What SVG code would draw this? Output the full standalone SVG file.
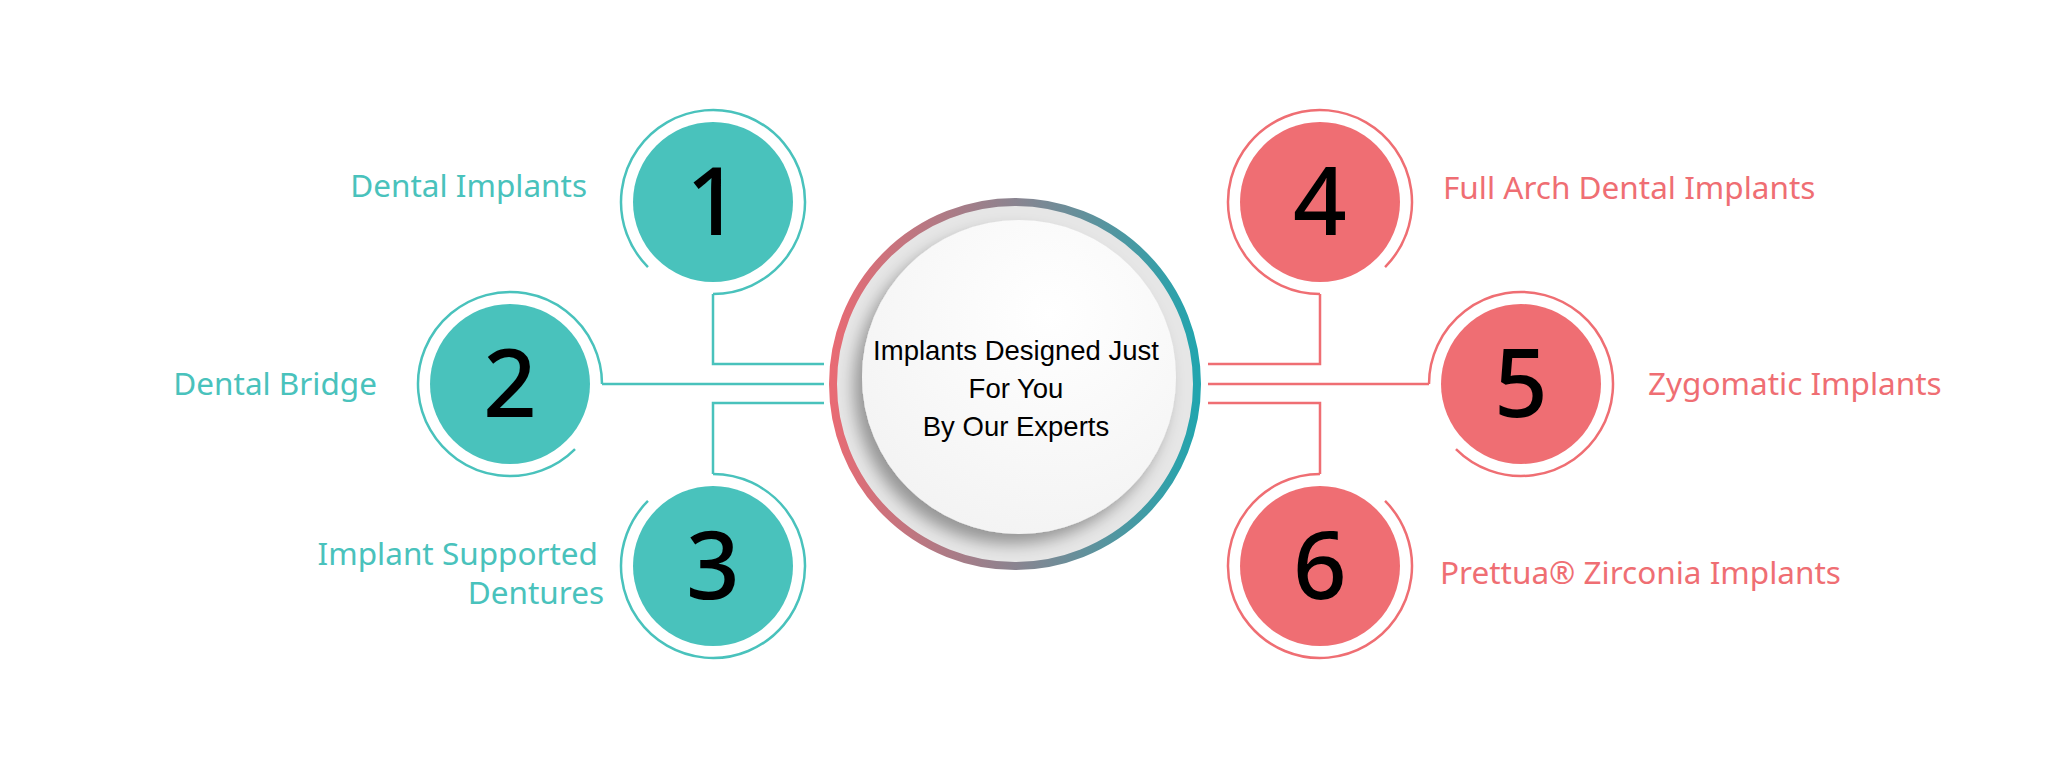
<svg xmlns="http://www.w3.org/2000/svg" width="2048" height="768" viewBox="0 0 2048 768">
<style>
.t{fill:#49c2bc}.r{fill:#ef6e73}
.ringt{fill:none;stroke:#49c2bc;stroke-width:2.5}
.ringr{fill:none;stroke:#ef6e73;stroke-width:2.5}
.num{font-family:"Noto Sans",sans-serif;font-size:94px;font-weight:500;fill:#000;text-anchor:middle}
.lbl{font-family:"Noto Sans",sans-serif;font-size:31.5px}
.ct{font-family:"Liberation Sans",sans-serif;font-size:27.5px;fill:#000;text-anchor:middle}
</style>
<defs>
<linearGradient id="g" x1="0" y1="0" x2="1" y2="0"><stop offset="0" stop-color="#e86b74"/><stop offset="0.5" stop-color="#8a8490"/><stop offset="1" stop-color="#22a5ae"/></linearGradient>
<radialGradient id="w" cx="0.6" cy="0.3" r="0.8"><stop offset="0" stop-color="#ffffff"/><stop offset="1" stop-color="#f2f2f2"/></radialGradient>
<filter id="sh" x="-30%" y="-30%" width="160%" height="160%"><feDropShadow dx="-8" dy="10" stdDeviation="8" flood-color="#000" flood-opacity="0.35"/></filter>
</defs>
<rect width="2048" height="768" fill="#fff"/>
<g id="connectors">
<path class="ringt" d="M713,294 V364 H824 M602,384 H824 M713,474 V403 H824"/>
<path class="ringr" d="M1208,364 H1320 V294 M1208,384 H1429 M1208,403 H1320 V474"/>
</g>
<g id="center">
<circle cx="1015" cy="384" r="182" fill="#e6e6e6" stroke="url(#g)" stroke-width="8"/>
<circle cx="1019" cy="377" r="157" fill="url(#w)" filter="url(#sh)"/>
<text class="ct" x="1016" y="360">Implants Designed Just</text>
<text class="ct" x="1016" y="398">For You</text>
<text class="ct" x="1016" y="436">By Our Experts</text>
</g>
<g id="node1">
<path class="ringt" d="M713,294 A92 92 0 1 0 647.95,267.05"/>
<circle class="t" cx="713" cy="202" r="80"/>
<text class="num" x="713" y="235">1</text>
<text class="lbl t" x="587" y="197" text-anchor="end">Dental Implants</text>
</g>
<g id="node2">
<path class="ringt" d="M602,384 A92 92 0 1 0 575.05,449.05"/>
<circle class="t" cx="510" cy="384" r="80"/>
<text class="num" x="510" y="417">2</text>
<text class="lbl t" x="377" y="395" text-anchor="end">Dental Bridge</text>
</g>
<g id="node3">
<path class="ringt" d="M713,474 A92 92 0 1 1 647.95,500.95"/>
<circle class="t" cx="713" cy="566" r="80"/>
<text class="num" x="713" y="599">3</text>
<text class="lbl t" x="598" y="565" text-anchor="end">Implant Supported</text>
<text class="lbl t" x="604" y="604" text-anchor="end">Dentures</text>
</g>
<g id="node4">
<path class="ringr" d="M1320,294 A92 92 0 1 1 1385.05,267.05"/>
<circle class="r" cx="1320" cy="202" r="80"/>
<text class="num" x="1320" y="235">4</text>
<text class="lbl r" x="1443" y="199">Full Arch Dental Implants</text>
</g>
<g id="node5">
<path class="ringr" d="M1429,384 A92 92 0 1 1 1455.95,449.05"/>
<circle class="r" cx="1521" cy="384" r="80"/>
<text class="num" x="1521" y="417">5</text>
<text class="lbl r" x="1648" y="395">Zygomatic Implants</text>
</g>
<g id="node6">
<path class="ringr" d="M1320,474 A92 92 0 1 0 1385.05,500.95"/>
<circle class="r" cx="1320" cy="566" r="80"/>
<text class="num" x="1320" y="599">6</text>
<text class="lbl r" x="1440" y="584">Prettua® Zirconia Implants</text>
</g>
</svg>
